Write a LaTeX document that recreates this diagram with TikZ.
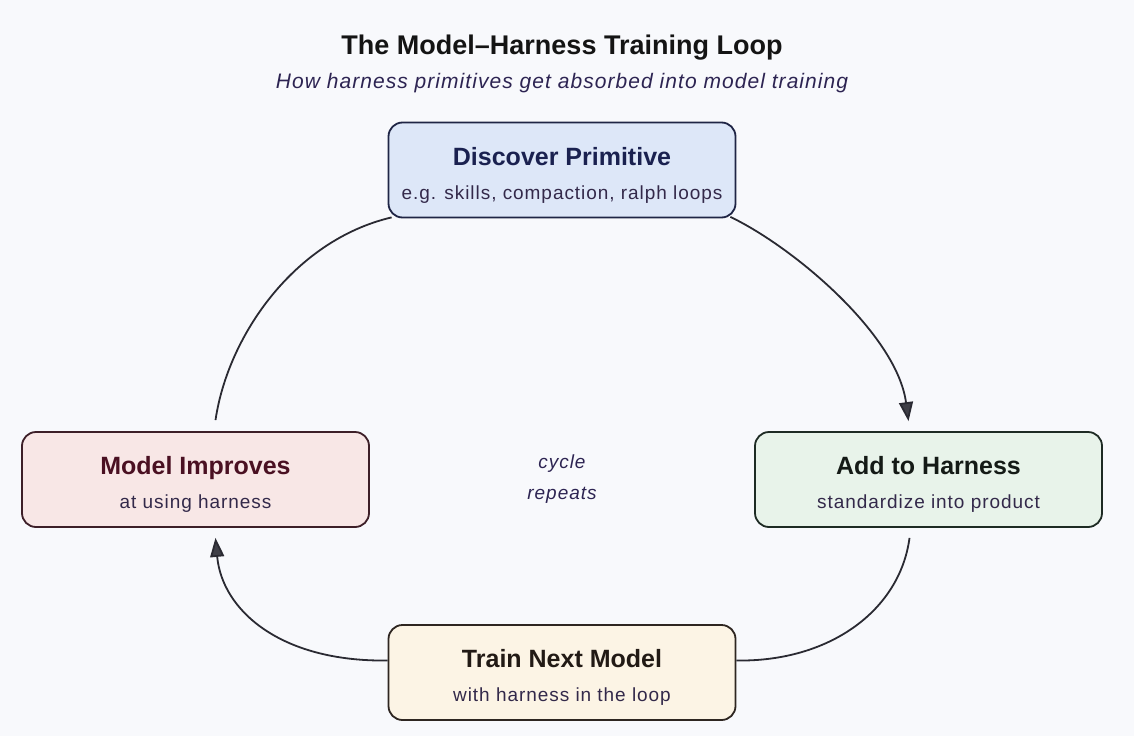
\documentclass[tikz,border=0pt]{standalone}
\usepackage{fontspec}
\setmainfont{Liberation Sans}
\newfontfamily\spacedfont[LetterSpace=5]{Liberation Sans}
\usetikzlibrary{arrows.meta}

\definecolor{pagebg}{HTML}{F8F9FC}
\definecolor{titlecol}{HTML}{141414}
\definecolor{subtitlecol}{HTML}{2D2452}
\definecolor{subcol}{HTML}{33294A}
\definecolor{loopcol}{HTML}{2A2A32}
\definecolor{discfill}{HTML}{DDE7F8}
\definecolor{discdraw}{HTML}{1F2545}
\definecolor{disctext}{HTML}{1A2150}
\definecolor{addfill}{HTML}{E8F3EA}
\definecolor{adddraw}{HTML}{1E2B24}
\definecolor{addtext}{HTML}{141A16}
\definecolor{trainfill}{HTML}{FCF4E5}
\definecolor{traindraw}{HTML}{2E2621}
\definecolor{traintext}{HTML}{221A15}
\definecolor{modfill}{HTML}{F8E7E6}
\definecolor{moddraw}{HTML}{3D1F28}
\definecolor{modtext}{HTML}{4A1022}

\tikzset{
  stage/.style={draw, line width=1.8pt, rounded corners=14pt,
    minimum width=347pt, minimum height=95pt, inner sep=0pt},
  stagehead/.style={anchor=base, font=\fontsize{25}{30}\selectfont\bfseries},
  stagesub/.style={anchor=base, text=subcol, font=\spacedfont\fontsize{19}{23}\selectfont},
  loopline/.style={draw=loopcol, line width=1.8pt},
  looptip/.style={-{Triangle[length=19pt,width=14pt,fill=loopcol!90]}}
}

\begin{document}
\begin{tikzpicture}[x=1pt,y=1pt]
% Page background
\fill[pagebg] (0,0) rectangle (1134,-736);

% Heading
\node[anchor=base, font=\fontsize{27}{32}\selectfont\bfseries, text=titlecol] (title)
    at (562,-54) {The Model–Harness Training Loop};
\node[anchor=base, font=\spacedfont\fontsize{21}{25}\selectfont\itshape, text=subtitlecol] (subtitle)
    at (562,-88) {How harness primitives get absorbed into model training};

% Stages of the loop
\foreach \nm/\x/\y/\head/\sub in {
    disc/562/-170/Discover Primitive/{e.g. skills, compaction, ralph loops},
    add/928.5/-479.5/Add to Harness/standardize into product,
    train/562/-672.5/Train Next Model/with harness in the loop,
    mod/195.5/-479.5/Model Improves/at using harness} {
  \node[stage, fill=\nm fill, draw=\nm draw] (\nm) at (\x,\y) {};
  \node[stagehead, text=\nm text] (\nm-head) at ([yshift=5pt]\nm.center) {\head};
  \node[stagesub] (\nm-sub) at ([yshift=-29pt]\nm.center) {\sub};
}

% Connectors
\draw[loopline, looptip] ([xshift=-6pt,yshift=1.5pt]disc.south east)
    .. controls (795,-248) and (897,-335) .. ([xshift=-20pt,yshift=10pt]add.north);
\draw[loopline] ([xshift=-19pt,yshift=-10pt]add.south)
    .. controls (900,-610) and (830,-662) .. ([yshift=12pt]train.east);
\draw[loopline, looptip] ([yshift=12pt]train.west)
    .. controls (280,-662) and (222,-610) .. ([xshift=20pt,yshift=-10pt]mod.south);
\draw[loopline] ([xshift=20pt,yshift=11pt]mod.north)
    .. controls (228,-335) and (295,-240) .. ([xshift=4pt,yshift=1pt]disc.south west);

% Centre note
\node[anchor=base, font=\spacedfont\fontsize{19}{23}\selectfont\itshape, text=subtitlecol] (cycle)
    at (562,-468) {cycle};
\node[anchor=base, font=\spacedfont\fontsize{19}{23}\selectfont\itshape, text=subtitlecol] (repeats)
    at (562,-499) {repeats};
\end{tikzpicture}
\end{document}
